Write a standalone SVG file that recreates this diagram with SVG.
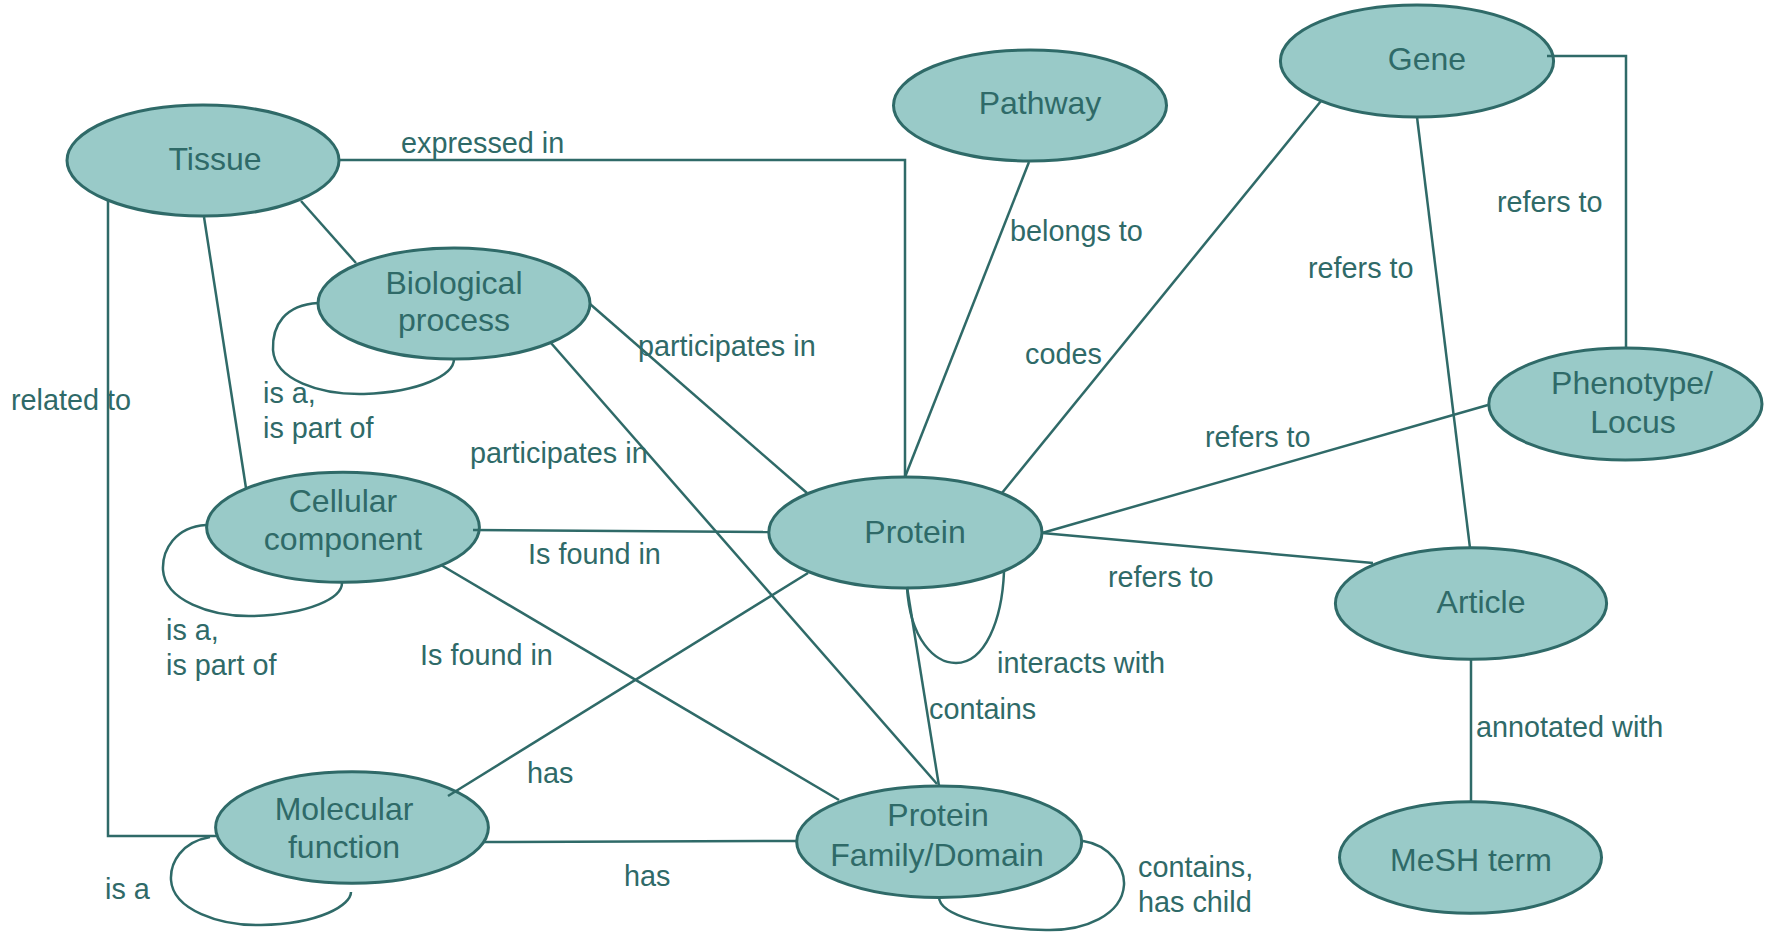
<svg xmlns="http://www.w3.org/2000/svg" width="1769" height="932" viewBox="0 0 1769 932">
<style>
.node ellipse{fill:#99CAC8;stroke:#2F6A68;stroke-width:3}
.node text{font-family:"Liberation Sans",Arial,sans-serif;font-size:32px;fill:#2F6A68;text-anchor:middle}
.edges path{fill:none;stroke:#2F6A68;stroke-width:2.5}
.lbl{font-family:"Liberation Sans",Arial,sans-serif;font-size:28.8px;fill:#2F6A68}
</style>
<rect width="1769" height="932" fill="#FFFFFF"/>
<g id="nodes">
<g id="tissue" class="node"><ellipse cx="203" cy="160.5" rx="136" ry="55.5"/><text x="215" y="170">Tissue</text></g>
<g id="biological-process" class="node"><ellipse cx="454" cy="303.5" rx="136" ry="55.5"/><text x="454" y="294">Biological</text><text x="454" y="331">process</text></g>
<g id="cellular-component" class="node"><ellipse cx="343" cy="527.3" rx="136.4" ry="55"/><text x="343" y="512">Cellular</text><text x="343" y="550">component</text></g>
<g id="molecular-function" class="node"><ellipse cx="352" cy="827.5" rx="136.4" ry="55.8"/><text x="344" y="820">Molecular</text><text x="344" y="858">function</text></g>
<g id="pathway" class="node"><ellipse cx="1030" cy="105.5" rx="136.5" ry="55.5"/><text x="1040" y="114">Pathway</text></g>
<g id="gene" class="node"><ellipse cx="1417" cy="61" rx="136.6" ry="56"/><text x="1427" y="70">Gene</text></g>
<g id="phenotype-locus" class="node"><ellipse cx="1625.4" cy="404" rx="136.6" ry="56"/><text x="1632" y="394">Phenotype/</text><text x="1633" y="433">Locus</text></g>
<g id="protein" class="node"><ellipse cx="905.4" cy="532.5" rx="136.6" ry="55.5"/><text x="915" y="543">Protein</text></g>
<g id="article" class="node"><ellipse cx="1471" cy="603.5" rx="135.6" ry="55.8"/><text x="1481" y="613">Article</text></g>
<g id="protein-family-domain" class="node"><ellipse cx="939.2" cy="841.7" rx="142.5" ry="55.7"/><text x="938" y="826">Protein</text><text x="937" y="866">Family/Domain</text></g>
<g id="mesh-term" class="node"><ellipse cx="1470.5" cy="857.5" rx="131" ry="55.8"/><text x="1471" y="871">MeSH term</text></g>
</g>
<g id="connectors" class="edges">
<path d="M339,160 L905,160 L905,477"/>
<path d="M301,201 L356,263"/>
<path d="M204,217 L246,488"/>
<path d="M108,201 L108,836 L216,836"/>
<path d="M318,303 C285,305 272,325 273,350 C275,380 320,395 364,394 C420,392 454,375 454,359"/>
<path d="M590,304 L807,493"/>
<path d="M551,343 L937,784"/>
<path d="M206,525 C175,527 162,550 163,570 C165,600 210,617 253,616 C310,614 342,598 342,583"/>
<path d="M473,530 L769,532"/>
<path d="M441,565 L839,800"/>
<path d="M448,796 L808,573"/>
<path d="M210,837 C182,842 170,862 171,880 C173,910 220,926 261,925 C320,924 351,905 351,892"/>
<path d="M483,842 L797,841"/>
<path d="M1029,162 L905,477"/>
<path d="M1321,101 L1002,493"/>
<path d="M1547,56 L1626,56 L1626,348"/>
<path d="M1417,117 L1470,548"/>
<path d="M1042,533 L1488,405"/>
<path d="M1042,533 L1373,563"/>
<path d="M907,587 C910,640 935,663 956,663 C985,663 1002,620 1004,572"/>
<path d="M907,587 L939,786"/>
<path d="M1083,841 C1110,845 1125,868 1124,885 C1122,915 1085,931 1046,930 C990,929 939,915 939,897"/>
<path d="M1471,659 L1471,802"/>
</g>
<g id="labels" class="lbl">
<text x="401" y="153">expressed in</text>
<text x="638" y="356">participates in</text>
<text x="470" y="463">participates in</text>
<text x="11" y="410">related to</text>
<text x="263" y="403">is a,</text>
<text x="263" y="438">is part of</text>
<text x="528" y="564">Is found in</text>
<text x="166" y="640">is a,</text>
<text x="166" y="675">is part of</text>
<text x="420" y="665">Is found in</text>
<text x="527" y="783">has</text>
<text x="624" y="886">has</text>
<text x="105" y="899">is a</text>
<text x="1010" y="241">belongs to</text>
<text x="1025" y="364">codes</text>
<text x="1497" y="212">refers to</text>
<text x="1308" y="278">refers to</text>
<text x="1205" y="447">refers to</text>
<text x="1108" y="587">refers to</text>
<text x="997" y="673">interacts with</text>
<text x="929" y="719">contains</text>
<text x="1138" y="877">contains,</text>
<text x="1138" y="912">has child</text>
<text x="1476" y="737">annotated with</text>
</g>
</svg>
